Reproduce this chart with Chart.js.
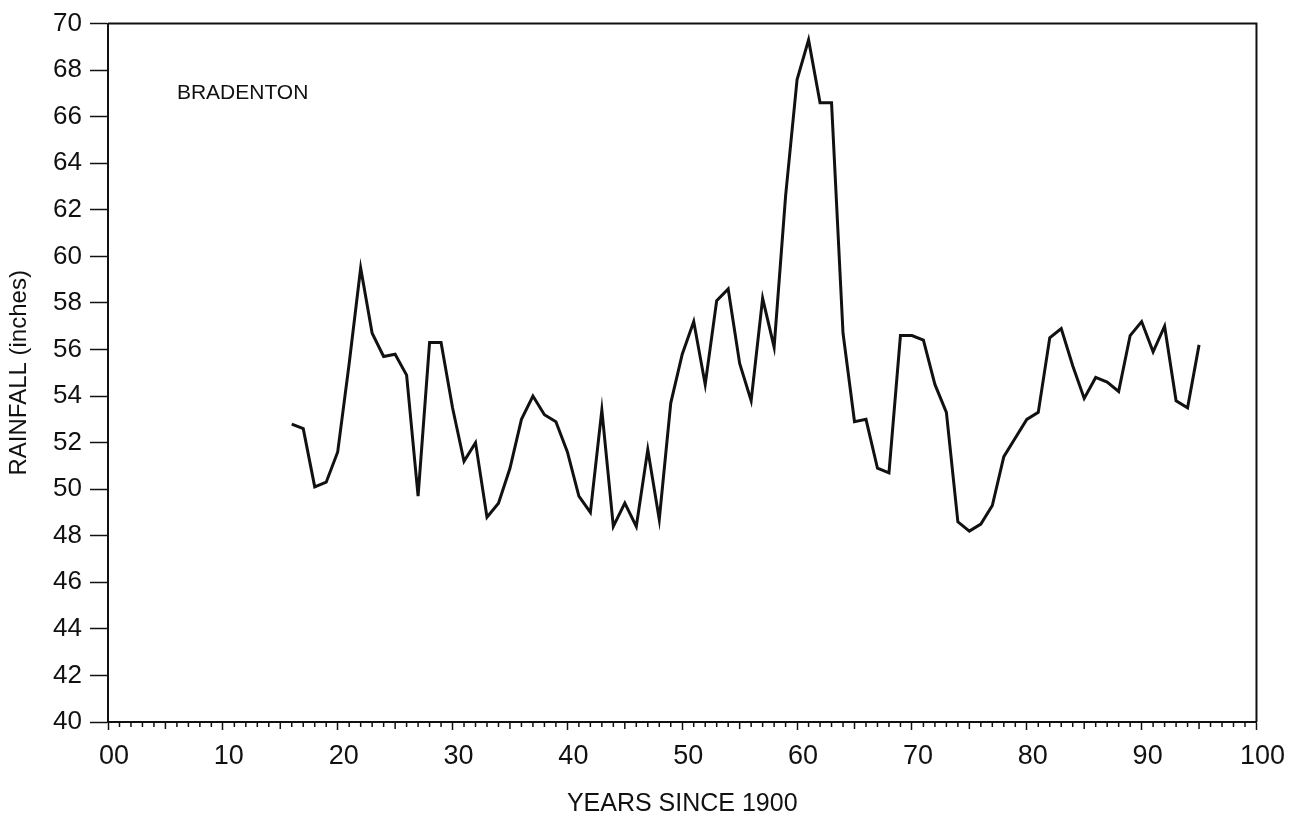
<!DOCTYPE html>
<html lang="en">
<head>
  <meta charset="UTF-8" />
  <title>Bradenton rainfall</title>
  <script src="https://cdn.jsdelivr.net/npm/chart.js"></script>
  <style>
    body {
      margin: 0;
      background-color: white;
    }
  </style>
</head>
<body>
  <canvas id="rainChart" width="1289" height="829"></canvas>

  <script>
    // annual rainfall, years since 1900
    const years = [
      16, 17, 18, 19, 20, 21, 22, 23, 24, 25, 26, 27, 28, 29, 30, 31, 32, 33, 34, 35,
      36, 37, 38, 39, 40, 41, 42, 43, 44, 45, 46, 47, 48, 49, 50, 51, 52, 53, 54, 55,
      56, 57, 58, 59, 60, 61, 62, 63, 64, 65, 66, 67, 68, 69, 70, 71, 72, 73, 74, 75,
      76, 77, 78, 79, 80, 81, 82, 83, 84, 85, 86, 87, 88, 89, 90, 91, 92, 93, 94, 95
    ];
    const rainfall = [
      52.8, 52.6, 50.1, 50.3, 51.6, 55.4, 59.5, 56.7, 55.7, 55.8, 54.9, 49.7, 56.3, 56.3, 53.5, 51.2, 52.0, 48.8, 49.4, 50.9,
      53.0, 54.0, 53.2, 52.9, 51.6, 49.7, 49.0, 53.4, 48.4, 49.4, 48.4, 51.7, 48.7, 53.7, 55.8, 57.2, 54.5, 58.1, 58.6, 55.4,
      53.8, 58.2, 56.1, 62.6, 67.6, 69.3, 66.6, 66.6, 56.7, 52.9, 53.0, 50.9, 50.7, 56.6, 56.6, 56.4, 54.5, 53.3, 48.6, 48.2,
      48.5, 49.3, 51.4, 52.2, 53.0, 53.3, 56.5, 56.9, 55.3, 53.9, 54.8, 54.6, 54.2, 56.6, 57.2, 55.9, 57.0, 53.8, 53.5, 56.2
    ];
    const xTicks = [0, 10, 20, 30, 40, 50, 60, 70, 80, 90, 100];
    const stationName = "BRADENTON";

    const font = "'Liberation Sans', Arial, sans-serif";
    const ink = "#111";

    // frame on top/right, small yearly ticks under the x axis, station label
    const framePlugin = {
      id: "frame",
      afterDraw(chart) {
        const { ctx, chartArea: a, scales } = chart;
        const x = scales.x, y = scales.y;
        ctx.save();
        ctx.strokeStyle = ink;
        ctx.lineWidth = 2;
        ctx.beginPath();
        ctx.moveTo(a.left, a.top);
        ctx.lineTo(a.right, a.top);
        ctx.lineTo(a.right, a.bottom);
        ctx.stroke();

        ctx.lineWidth = 1.5;
        ctx.beginPath();
        for (let v = 1; v < 100; v++) {
          if (v % 10 === 0) continue;
          const px = x.getPixelForValue(v);
          ctx.moveTo(px, a.bottom);
          ctx.lineTo(px, a.bottom + (v % 5 === 0 ? 7 : 5));
        }
        ctx.stroke();

        ctx.fillStyle = ink;
        ctx.font = "21px " + font;
        ctx.textBaseline = "middle";
        ctx.fillText(stationName, x.getPixelForValue(6), y.getPixelForValue(67));
        ctx.restore();
      }
    };

    new Chart("rainChart", {
      type: "line",
      data: {
        datasets: [{
          data: years.map((yr, i) => ({ x: yr, y: rainfall[i] })),
          borderColor: ink,
          borderWidth: 3,
          pointRadius: 0,
          tension: 0,
          fill: false
        }]
      },
      options: {
        responsive: false,
        animation: false,
        layout: { padding: { top: 22, right: 32, left: 0, bottom: 0 } },
        plugins: {
          legend: { display: false },
          tooltip: { enabled: false }
        },
        scales: {
          x: {
            type: "linear",
            min: 0,
            max: 100,
            afterBuildTicks: s => { s.ticks = xTicks.map(v => ({ value: v })); },
            afterFit: s => { s.height = 107; },
            border: { display: true, color: ink, width: 2 },
            grid: { drawOnChartArea: false, color: ink, tickLength: 8, tickWidth: 1.5 },
            ticks: {
              color: ink,
              font: { family: font, size: 27 },
              padding: 10,
              labelOffset: 6,
              maxRotation: 0,
              callback: v => v === 0 ? "00" : String(v)
            },
            title: {
              display: true,
              text: "YEARS SINCE 1900",
              color: ink,
              font: { family: font, size: 25 },
              padding: { top: 0, bottom: 10 }
            }
          },
          y: {
            min: 40,
            max: 70,
            afterFit: s => { s.width = 108; },
            border: { display: true, color: ink, width: 2 },
            grid: { drawOnChartArea: false, color: ink, tickLength: 18, tickWidth: 1.5 },
            ticks: {
              stepSize: 2,
              color: ink,
              font: { family: font, size: 26 },
              padding: 8
            },
            title: {
              display: true,
              text: "RAINFALL (inches)",
              color: ink,
              font: { family: font, size: 24 },
              padding: { top: 5, bottom: 0 }
            }
          }
        }
      },
      plugins: [framePlugin]
    });
  </script>
</body>
</html>
